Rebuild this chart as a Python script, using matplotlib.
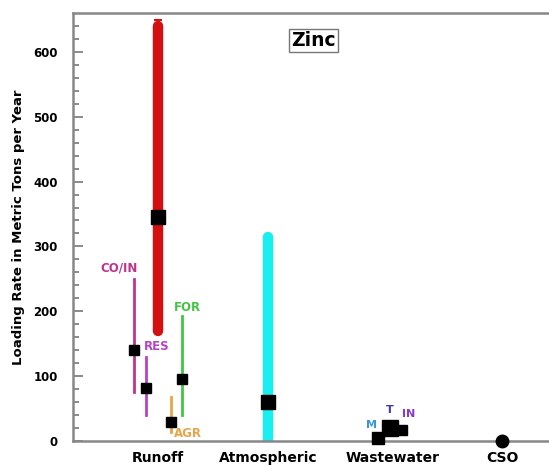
import matplotlib.pyplot as plt
import numpy as np

# categories along the x axis
cat_names = ['Runoff', 'Atmospheric', 'Wastewater', 'CSO']
cat_pos = [1.0, 1.96, 3.05, 4.0]

# main ranges (thick bars) and means
main_x = [1.0, 1.96]
main_lo = [170, 0]
main_hi = [640, 315]
main_mean = [345, 60]
main_col = ['#d40f0f', '#19eef0']

# runoff land-use sub ranges
sub_names = ['CO/IN', 'RES', 'AGR', 'FOR']
sub_x = [0.79, 0.90, 1.11, 1.21]
sub_lo = [75, 40, 14, 40]
sub_hi = [250, 130, 68, 193]
sub_mean = [140, 82, 29, 95]
sub_col = ['#c0338c', '#b444c4', '#e8a448', '#44c444']
sub_lab_xy = [(0.66, 267), (0.99, 145), (1.26, 12), (1.26, 205)]

# wastewater (municipal, total, industrial)
ww_names = ['M', 'T', 'IN']
ww_x = [2.92, 3.02, 3.13]
ww_val = [4, 20, 16]
ww_size = [8, 11, 7]
ww_col = ['#3a96d8', '#3a3ab8', '#8a3ac8']
ww_lab_xy = [(2.86, 25), (3.02, 48), (3.19, 42)]

cso_x = 4.0
cso_val = 0

fig = plt.figure(figsize=(5.49, 4.67), dpi=100)
ax = fig.add_axes([0.133, 0.056, 0.867, 0.916])

# red top whisker
ax.errorbar([main_x[0]], [main_hi[0]], yerr=[[0], [10]], color=main_col[0],
            lw=1.5, capsize=3, capthick=1.5, zorder=2)
for x, lo, hi, c in zip(main_x, main_lo, main_hi, main_col):
    ax.plot([x, x], [lo, hi], color=c, lw=7.5, solid_capstyle='round', zorder=2)
ax.plot(main_x, main_mean, 's', color='black', ms=10, ls='none', zorder=4)

for x, lo, hi, m, c in zip(sub_x, sub_lo, sub_hi, sub_mean, sub_col):
    ax.plot([x, x], [lo, hi], color=c, lw=2, zorder=2)
    ax.plot(x, m, 's', color='black', ms=7, zorder=4)
for name, (tx, ty), c in zip(sub_names, sub_lab_xy, sub_col):
    ax.text(tx, ty, name, color=c, fontsize=8.5, fontweight='bold',
            ha='center', va='center')

for x, v, s in zip(ww_x, ww_val, ww_size):
    ax.plot(x, v, 's', color='black', ms=s, zorder=4, clip_on=False)
for name, (tx, ty), c in zip(ww_names, ww_lab_xy, ww_col):
    ax.text(tx, ty, name, color=c, fontsize=8, fontweight='bold',
            ha='center', va='center')

ax.plot(cso_x, cso_val, 'o', color='black', ms=9, zorder=5, clip_on=False)

ax.text(2.36, 618, 'Zinc', fontsize=13.5, fontweight='bold', ha='center', va='center',
        bbox=dict(boxstyle='square,pad=0.12', fc='white', ec='#777777', lw=1))

ax.set_xlim(0.26, 4.41)
ax.set_ylim(0, 660)
ax.set_xticks(cat_pos)
ax.set_xticklabels(cat_names, fontsize=10, fontweight='bold')
ax.set_yticks(np.arange(0, 700, 100))
ax.set_yticks(np.arange(0, 660, 20), minor=True)
for lab in ax.get_yticklabels():
    lab.set_fontweight('bold')
    lab.set_fontsize(8.5)
ax.tick_params(axis='y', which='both', direction='in', color='#777777', width=1.2, pad=11)
ax.tick_params(axis='y', which='major', length=7)
ax.tick_params(axis='y', which='minor', length=4)
ax.tick_params(axis='x', length=0, pad=7)
ax.set_ylabel('Loading Rate in Metric Tons per Year', fontsize=9.5, fontweight='bold',
              labelpad=6)

for sp in ['left', 'top', 'bottom']:
    ax.spines[sp].set_color('#888888')
    ax.spines[sp].set_linewidth(1.8)
ax.spines['right'].set_visible(False)

fig.savefig('out.png', dpi=100)
